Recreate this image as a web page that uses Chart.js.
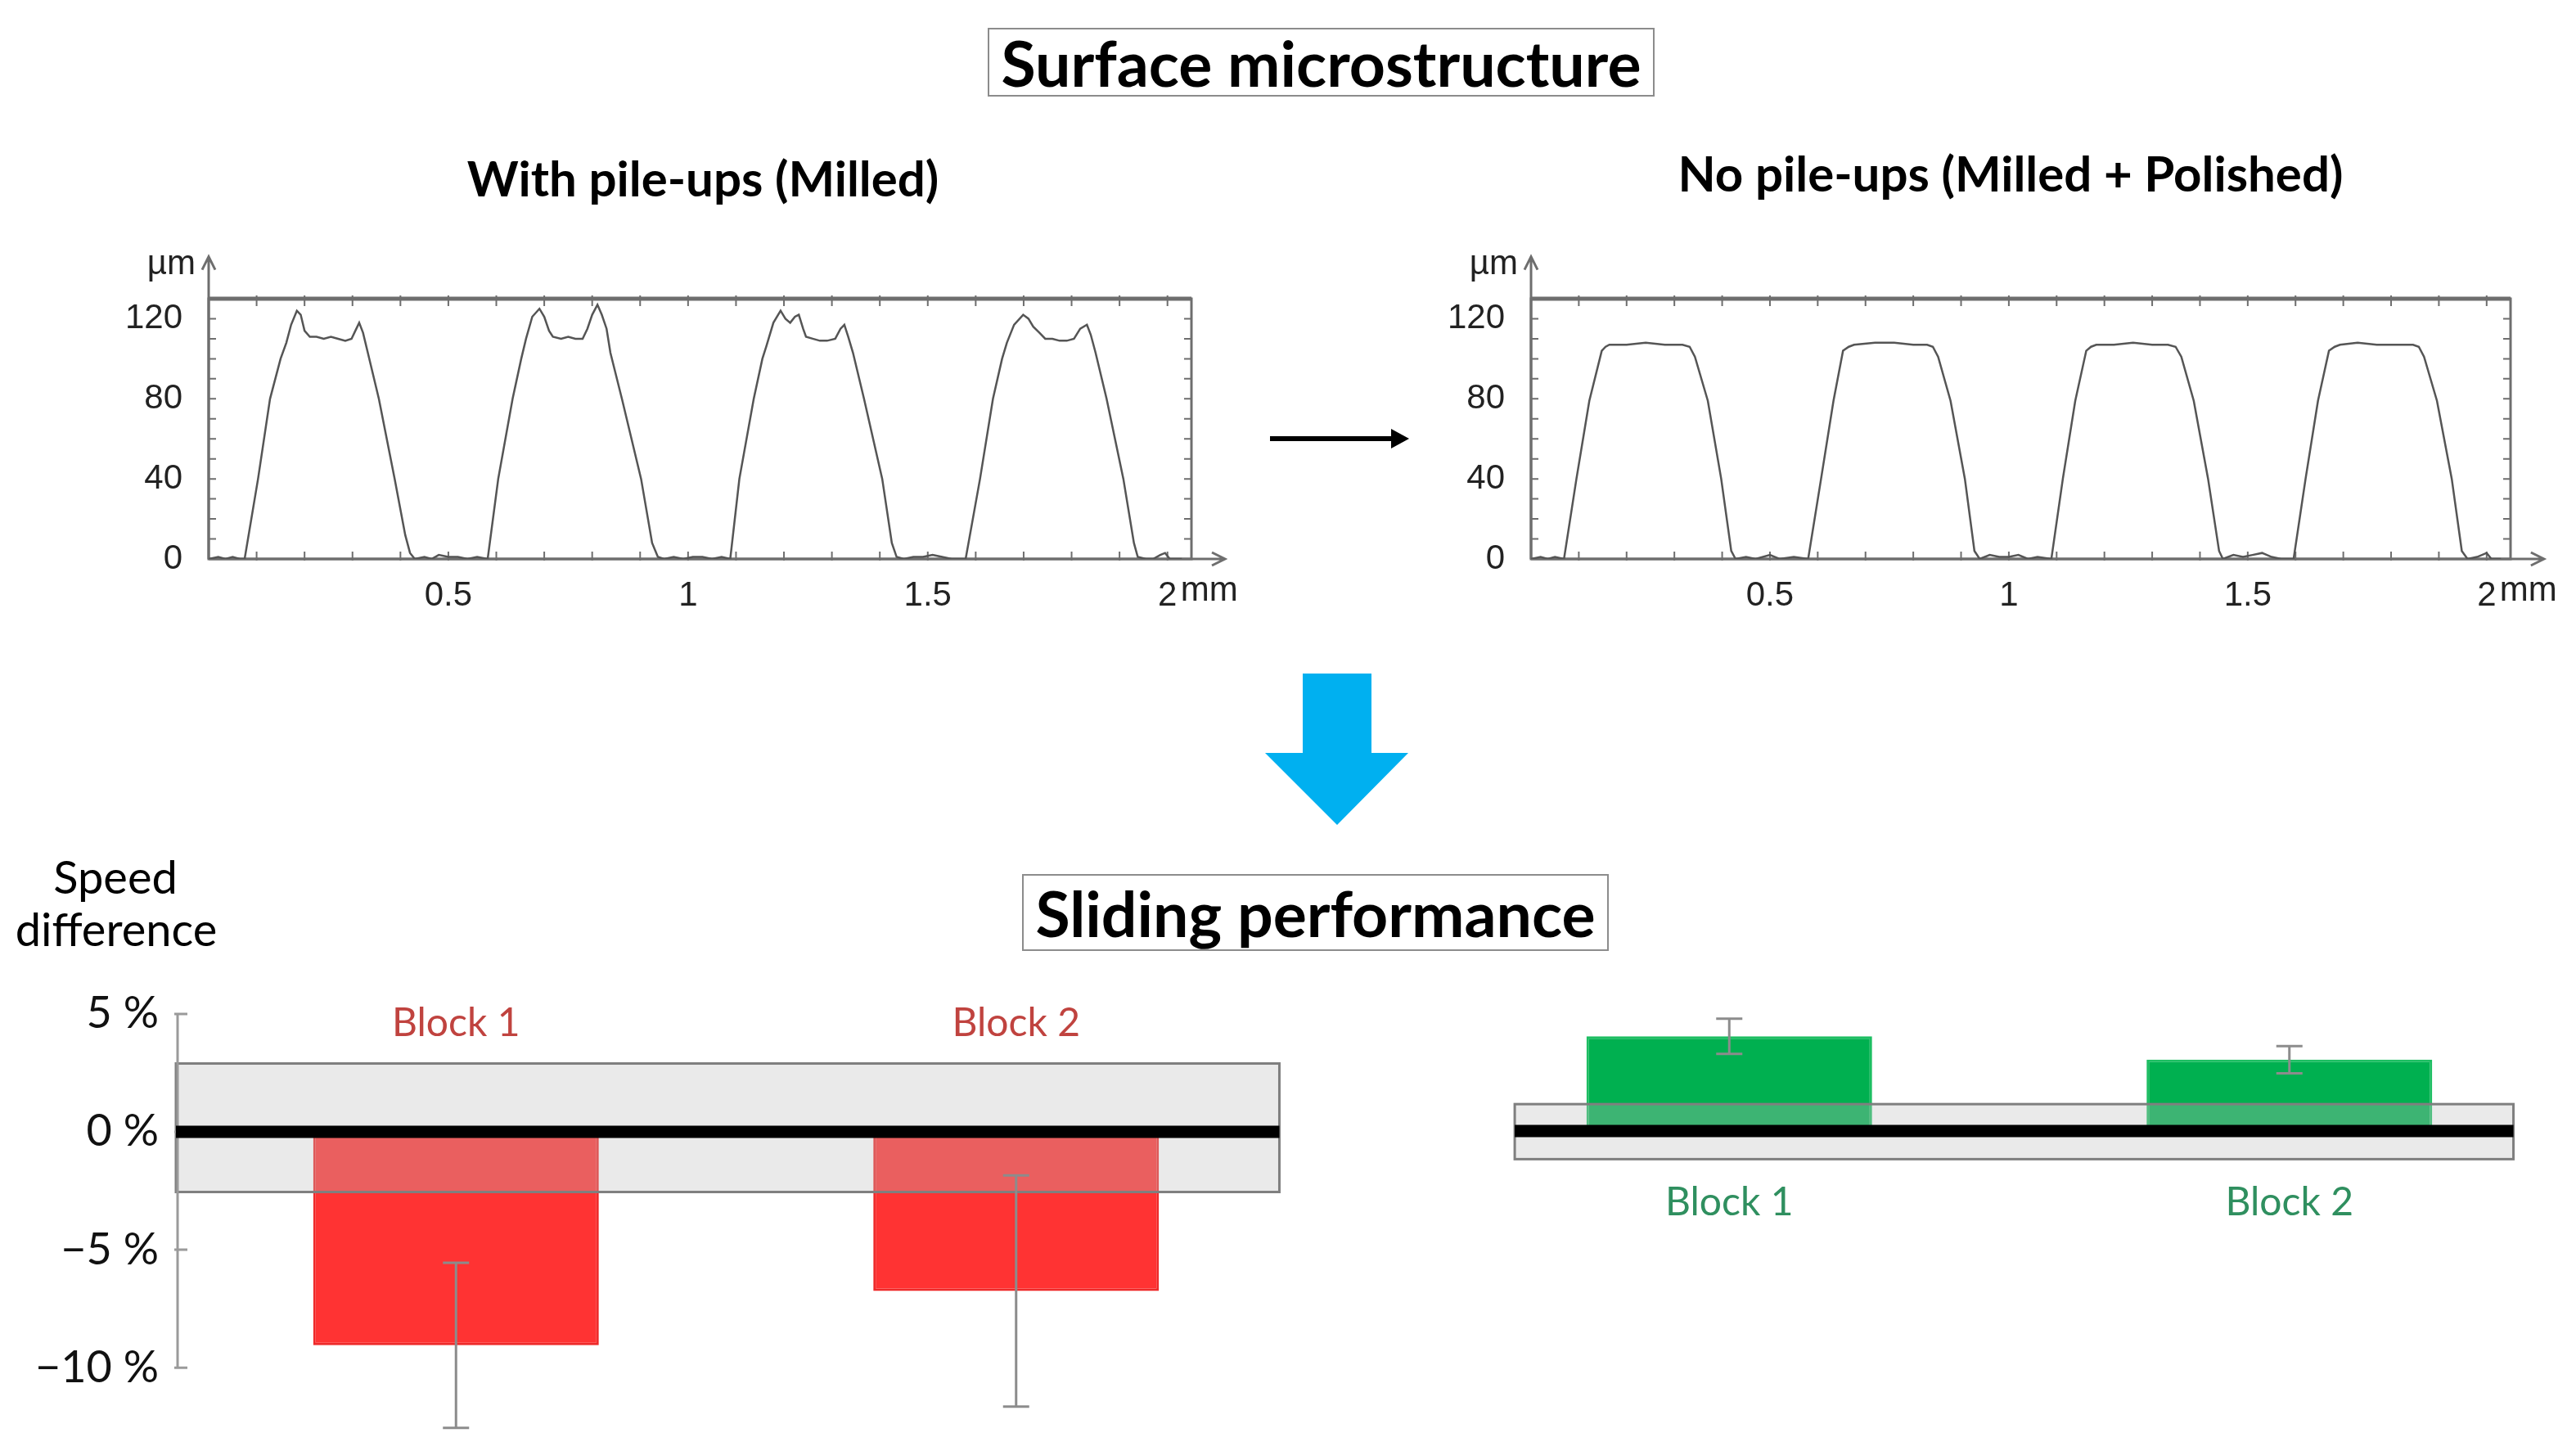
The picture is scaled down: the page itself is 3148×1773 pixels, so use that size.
<!DOCTYPE html>
<html lang="en">
<head>
  <meta charset="UTF-8">
  <title>Surface microstructure and sliding performance</title>
  <script src="https://cdn.jsdelivr.net/npm/chart.js"></script>
  <style>
    body { margin: 0; background: #fff; font-family: Lato, "Open Sans", sans-serif; }
    #page { position: relative; width: 3148px; height: 1773px; overflow: hidden; }
    canvas { position: absolute; }
    .txt { position: absolute; transform: translate(-50%, -50%); white-space: nowrap; color: #000; }
    .box { position: absolute; border: 2px solid #8c8c8c; box-sizing: border-box;
           display: flex; align-items: center; justify-content: center;
           font-weight: 700; font-size: 77px; }
    svg { position: absolute; left: 0; top: 0; }
  </style>
</head>
<body>
<div id="page">
  <div class="box" style="left:1207px; top:34px; width:815px; height:84px;">Surface microstructure</div>
  <div class="txt" style="left:859px; top:217px; font-weight:700; font-size:60px;">With pile-ups (Milled)</div>
  <div class="txt" style="left:2457px; top:211px; font-weight:700; font-size:60px;">No pile-ups (Milled + Polished)</div>

  <canvas id="milledProfile" width="1400" height="460" style="left:150px; top:290px;"></canvas>
  <canvas id="polishedProfile" width="1403" height="460" style="left:1745px; top:290px;"></canvas>

  <svg width="3148" height="1773">
    <line x1="1552" y1="536" x2="1706" y2="536" stroke="#000" stroke-width="6"/>
    <polygon points="1722,536 1700,524 1700,548" fill="#000"/>
    <polygon points="1592,823 1676,823 1676,920 1721,920 1634,1008 1546,920 1592,920" fill="#00B0F0"/>
  </svg>

  <div class="box" style="left:1249px; top:1068px; width:717px; height:94px;">Sliding performance</div>
  <div class="txt" style="left:141px; top:1070px; font-size:56px;">Speed</div>
  <div class="txt" style="left:142px; top:1134px; font-size:56px;">difference</div>

  <canvas id="milledSpeed" width="1600" height="623" style="left:0px; top:1180px;"></canvas>
  <canvas id="polishedSpeed" width="1448" height="593" style="left:1700px; top:1180px;"></canvas>
</div>

<script>
  // surface profiles (mm, µm)
  const milledX = [0, 0.02, 0.035, 0.05, 0.065, 0.075, 0.103, 0.128, 0.15, 0.162, 0.172, 0.184, 0.192, 0.2, 0.211, 0.225, 0.24, 0.255, 0.27, 0.285, 0.298, 0.306, 0.314, 0.322, 0.332, 0.355, 0.388, 0.41, 0.42, 0.43, 0.45, 0.465, 0.48, 0.5, 0.52, 0.54, 0.56, 0.582,
    0.604, 0.634, 0.652, 0.662, 0.675, 0.69, 0.7, 0.71, 0.718, 0.735, 0.75, 0.765, 0.78, 0.79, 0.8, 0.811, 0.82, 0.83, 0.838, 0.862, 0.902, 0.925, 0.937, 0.95, 0.97, 0.99, 1.01, 1.03, 1.05, 1.07, 1.088,
    1.107, 1.137, 1.155, 1.163, 1.178, 1.193, 1.203, 1.213, 1.223, 1.231, 1.24, 1.246, 1.26, 1.275, 1.29, 1.307, 1.318, 1.326, 1.334, 1.344, 1.367, 1.405, 1.425, 1.435, 1.45, 1.47, 1.49, 1.51, 1.53, 1.55, 1.579,
    1.609, 1.636, 1.655, 1.665, 1.68, 1.699, 1.71, 1.72, 1.733, 1.745, 1.76, 1.775, 1.79, 1.805, 1.818, 1.832, 1.84, 1.85, 1.873, 1.908, 1.93, 1.938, 1.955, 1.97, 1.985, 1.995, 2.005, 2.03];
  const milledY = [0, 1, 0, 1, 0, 0, 40, 80, 100, 108, 117, 124, 122, 114, 111, 111, 110, 111, 110, 109, 110, 114, 118, 113, 103, 80, 40, 12, 3, 0, 1, 0, 2, 1, 1, 0, 1, 0,
    40, 80, 100, 110, 121, 125, 121, 114, 111, 110, 111, 110, 110, 115, 122, 127, 122, 115, 103, 80, 40, 8, 1, 0, 1, 0, 1, 1, 0, 1, 0,
    40, 80, 100, 106, 118, 124, 120, 118, 121, 122, 115, 111, 110, 109, 109, 110, 115, 117, 111, 103, 80, 40, 8, 1, 0, 1, 1, 2, 1, 0, 0,
    40, 80, 100, 108, 117, 122, 120, 116, 113, 110, 110, 109, 109, 110, 115, 117, 112, 103, 80, 40, 8, 1, 0, 0, 2, 3, 0, 0];

  const polishedX = [0, 0.02, 0.035, 0.05, 0.069, 0.095, 0.122, 0.148, 0.156, 0.164, 0.2, 0.24, 0.28, 0.317, 0.332, 0.343, 0.37, 0.398, 0.419, 0.428, 0.45, 0.47, 0.5, 0.52, 0.55, 0.58,
    0.607, 0.633, 0.653, 0.665, 0.676, 0.72, 0.76, 0.8, 0.829, 0.841, 0.852, 0.878, 0.908, 0.928, 0.939, 0.96, 0.98, 1.0, 1.02, 1.04, 1.06, 1.089,
    1.113, 1.139, 1.162, 1.172, 1.183, 1.22, 1.26, 1.3, 1.333, 1.349, 1.361, 1.387, 1.417, 1.44, 1.448, 1.47, 1.49, 1.51, 1.53, 1.55, 1.57, 1.596,
    1.621, 1.647, 1.67, 1.682, 1.693, 1.73, 1.77, 1.81, 1.846, 1.858, 1.869, 1.896, 1.927, 1.948, 1.96, 1.98, 2.0, 2.01, 2.03];
  const polishedY = [0, 1, 0, 1, 0, 40, 79, 104, 106, 107, 107, 108, 107, 107, 106, 101, 79, 40, 4, 0, 1, 0, 2, 0, 1, 0,
    40, 79, 104, 106, 107, 108, 108, 107, 107, 106, 101, 79, 40, 4, 0, 2, 1, 1, 2, 0, 1, 0,
    40, 79, 104, 106, 107, 107, 108, 107, 107, 106, 101, 79, 40, 4, 0, 2, 1, 2, 3, 1, 0, 0,
    40, 79, 104, 106, 107, 108, 107, 107, 107, 106, 101, 79, 40, 4, 0, 1, 3, 0, 0];

  const profileXTicks = [0.5, 1, 1.5, 2];
  const profileYTicks = [0, 40, 80, 120];

  // sliding performance, speed difference in %
  const blocks = ['Block 1', 'Block 2'];
  const milledDiff = [-9.05, -6.75];
  const milledErr = [3.5, 4.9];
  const milledBand = [-2.55, 2.9];
  const polishedDiff = [4.05, 3.05];
  const polishedErr = [0.75, 0.58];
  const polishedBand = [-1.2, 1.15];
  const speedTicks = [-10, -5, 0, 5];

  const tickFont = { family: '"Liberation Sans", Arial, sans-serif', size: 42 };

  const profileFrame = {
    id: 'profileFrame',
    beforeDatasetsDraw(chart) {
      const { ctx, chartArea: a, scales: { x, y } } = chart;
      ctx.save();
      ctx.strokeStyle = '#6e6e6e';
      ctx.lineWidth = 3;
      ctx.strokeRect(a.left, a.top, a.right - a.left, a.bottom - a.top);
      ctx.lineWidth = 5;
      ctx.beginPath(); ctx.moveTo(a.left, a.top); ctx.lineTo(a.right, a.top); ctx.stroke();

      // small ticks on all four sides
      ctx.lineWidth = 2;
      ctx.beginPath();
      for (let i = 1; i <= 20; i++) {
        const px = x.getPixelForValue(i / 10);
        ctx.moveTo(px, a.top - 4); ctx.lineTo(px, a.top + 9);
        ctx.moveTo(px, a.bottom + 2); ctx.lineTo(px, a.bottom - 9);
      }
      for (let i = 1; i <= 12; i++) {
        const py = y.getPixelForValue(i * 10);
        ctx.moveTo(a.left, py); ctx.lineTo(a.left + 9, py);
        ctx.moveTo(a.right, py); ctx.lineTo(a.right - 9, py);
      }
      ctx.stroke();

      // axis arrows
      const x0 = x.getPixelForValue(0), y0 = y.getPixelForValue(0);
      const xEnd = x.getPixelForValue(2.12), yEnd = y.getPixelForValue(151);
      ctx.lineWidth = 3;
      ctx.beginPath();
      ctx.moveTo(x0, y0); ctx.lineTo(xEnd, y0);
      ctx.moveTo(xEnd - 16, y0 - 8); ctx.lineTo(xEnd, y0); ctx.lineTo(xEnd - 16, y0 + 8);
      ctx.moveTo(x0, y0); ctx.lineTo(x0, yEnd);
      ctx.moveTo(x0 - 8, yEnd + 16); ctx.lineTo(x0, yEnd); ctx.lineTo(x0 + 8, yEnd + 16);
      ctx.stroke();

      ctx.fillStyle = '#222';
      ctx.font = '42px "Liberation Sans", Arial, sans-serif';
      ctx.textBaseline = 'middle';
      ctx.textAlign = 'right';
      ctx.fillText('µm', x0 - 16, y.getPixelForValue(147));
      ctx.textAlign = 'left';
      ctx.fillText('mm', x.getPixelForValue(2) + 16, y0 + 39);
      ctx.restore();
    }
  };

  function profileChart(id, xs, ys, yWidth, padRight) {
    new Chart(document.getElementById(id), {
      type: 'scatter',
      data: {
        datasets: [{
          data: xs.map((v, i) => ({ x: v, y: ys[i] })),
          showLine: true,
          borderColor: '#555',
          borderWidth: 2.5,
          pointRadius: 0,
          tension: 0
        }]
      },
      options: {
        responsive: false,
        animation: false,
        layout: { padding: { top: 75, right: padRight, left: 0, bottom: 0 } },
        plugins: { legend: { display: false }, tooltip: { enabled: false } },
        scales: {
          x: {
            type: 'linear', min: 0, max: 2.05,
            grid: { display: false }, border: { display: false },
            afterBuildTicks: s => { s.ticks = profileXTicks.map(v => ({ value: v })); },
            afterFit: s => { s.height = 67; },
            ticks: { font: tickFont, color: '#222', padding: 12, maxRotation: 0, autoSkip: false,
                     callback: v => String(v) }
          },
          y: {
            min: 0, max: 130,
            grid: { display: false }, border: { display: false },
            afterBuildTicks: s => { s.ticks = profileYTicks.map(v => ({ value: v })); },
            afterFit: s => { s.width = yWidth; },
            ticks: { font: tickFont, color: '#222', padding: 24, callback: v => String(v) }
          }
        }
      },
      plugins: [profileFrame]
    });
  }

  profileChart('milledProfile', milledX, milledY, 105, 94);
  profileChart('polishedProfile', polishedX, polishedY, 126, 80);

  const speedDecor = {
    id: 'speedDecor',
    afterDatasetsDraw(chart, args, o) {
      const { ctx, chartArea: a, scales: { x, y } } = chart;
      ctx.save();
      const l = x.getPixelForValue(o.bandFrom), r = x.getPixelForValue(o.bandTo);
      const t = y.getPixelForValue(o.band[1]), b = y.getPixelForValue(o.band[0]);
      ctx.fillStyle = 'rgba(190,190,190,0.32)';
      ctx.fillRect(l, t, r - l, b - t);
      ctx.strokeStyle = '#7f7f7f';
      ctx.lineWidth = 3;
      ctx.strokeRect(l, t, r - l, b - t);

      if (o.axis) {
        ctx.strokeStyle = '#9a9a9a';
        ctx.lineWidth = 3;
        ctx.beginPath();
        ctx.moveTo(a.left + 2, y.getPixelForValue(5));
        ctx.lineTo(a.left + 2, y.getPixelForValue(-10));
        speedTicks.forEach(v => {
          const py = y.getPixelForValue(v);
          ctx.moveTo(a.left - 2, py); ctx.lineTo(a.left + 14, py);
        });
        ctx.stroke();
      }

      const y0 = y.getPixelForValue(0);
      ctx.strokeStyle = '#000';
      ctx.lineWidth = 15;
      ctx.beginPath(); ctx.moveTo(l, y0); ctx.lineTo(r, y0); ctx.stroke();

      // error bars
      ctx.strokeStyle = '#8c8c8c';
      ctx.lineWidth = 3;
      ctx.beginPath();
      o.values.forEach((v, i) => {
        const px = x.getPixelForValue(i);
        const hi = y.getPixelForValue(v + o.errs[i]), lo = y.getPixelForValue(v - o.errs[i]);
        ctx.moveTo(px, hi); ctx.lineTo(px, lo);
        ctx.moveTo(px - 16, hi); ctx.lineTo(px + 16, hi);
        ctx.moveTo(px - 16, lo); ctx.lineTo(px + 16, lo);
      });
      ctx.stroke();

      ctx.fillStyle = o.labelColor;
      ctx.font = '48px Lato, "Open Sans", sans-serif';
      ctx.textAlign = 'center';
      ctx.textBaseline = 'middle';
      blocks.forEach((name, i) => ctx.fillText(name, x.getPixelForValue(i), y.getPixelForValue(o.labelAt)));
      ctx.restore();
    }
  };

  function speedChart(id, values, errs, band, opts) {
    new Chart(document.getElementById(id), {
      type: 'bar',
      data: {
        labels: blocks,
        datasets: [{
          data: values,
          backgroundColor: opts.barColor,
          borderColor: opts.barEdge,
          borderWidth: 3,
          categoryPercentage: 1,
          barPercentage: 0.51
        }]
      },
      options: {
        responsive: false,
        animation: false,
        layout: { padding: { top: 59, bottom: opts.padBottom, left: opts.padLeft, right: opts.padRight } },
        plugins: {
          legend: { display: false },
          tooltip: { enabled: false },
          speedDecor: {
            values, errs, band,
            bandFrom: opts.bandFrom, bandTo: opts.bandTo,
            axis: opts.axis, labelColor: opts.labelColor, labelAt: opts.labelAt
          }
        },
        scales: {
          x: { display: false },
          y: {
            display: opts.axis,
            min: -13, max: 5,
            grid: { display: false }, border: { display: false },
            afterBuildTicks: s => { s.ticks = speedTicks.map(v => ({ value: v })); },
            afterFit: s => { s.width = opts.axis ? 215 : 0; },
            ticks: {
              font: { family: 'Lato, "Open Sans", sans-serif', size: 54 },
              color: '#111', padding: 13,
              callback: v => (v < 0 ? '\u2212' + (-v) : v) + ' %'
            }
          }
        }
      },
      plugins: [speedDecor]
    });
  }

  speedChart('milledSpeed', milledDiff, milledErr, milledBand, {
    barColor: '#FF3333', barEdge: '#EE2A2A', labelColor: '#C0433F', labelAt: 4.6,
    axis: true, padLeft: 0, padRight: 16, padBottom: 0, bandFrom: -0.5, bandTo: 1.47
  });
  speedChart('polishedSpeed', polishedDiff, polishedErr, polishedBand, {
    barColor: '#00B050', barEdge: '#1DBE62', labelColor: '#2F8F5F', labelAt: -3.05,
    axis: false, padLeft: 71, padRight: 8, padBottom: 19, bandFrom: -0.383, bandTo: 1.4
  });
</script>
</body>
</html>
